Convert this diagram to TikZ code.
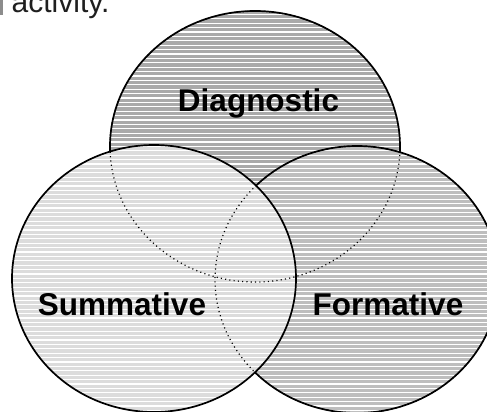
\documentclass[tikz,border=0pt]{standalone}
\usepackage{fontspec}
\setmainfont{Liberation Sans}
\definecolor{diagfill}{HTML}{AAAAAA}
\definecolor{formfill}{HTML}{BEBEBE}
\definecolor{summfill}{HTML}{DCDCDC}
\begin{document}
\begin{tikzpicture}[x=1pt,y=-1pt,
  outline/.style={draw=black,line width=1.7},
  hidden/.style={draw=black,line width=1.2,dash pattern=on 1.1 off 3.2},
  hatch/.style={draw=white,line width=1.1},
  label/.style={font=\fontsize{31.5}{36}\selectfont\bfseries,anchor=base,inner sep=0pt}]
\useasboundingbox (0,0) rectangle (487,412);
\clip (0,0) rectangle (487,412);
\fill[white] (0,0) rectangle (487,412);
% Diagnostic
\begin{scope}
  \clip (255,146.5) ellipse [x radius=145, y radius=135.5];
  \fill[diagfill] (0,0) rectangle (487,412);
  \foreach \yy in {1.2,5.6,...,412} \draw[hatch] (0,\yy) -- (487,\yy);
\end{scope}
\draw[outline] (255,146.5) ellipse [x radius=145, y radius=135.5];
% Formative
\begin{scope}
  \clip (357,279.5) ellipse [x radius=142, y radius=133.5];
  \fill[formfill] (0,0) rectangle (487,412);
  \foreach \yy in {1.2,5.6,...,412} \draw[hatch] (0,\yy) -- (487,\yy);
\end{scope}
\draw[outline] (357,279.5) ellipse [x radius=142, y radius=133.5];
% Summative
\begin{scope}
  \clip (154,278.5) ellipse [x radius=142, y radius=133.5];
  \fill[summfill] (0,0) rectangle (487,412);
  \foreach \yy in {1.2,5.6,...,412} \draw[hatch] (0,\yy) -- (487,\yy);
\end{scope}
\draw[outline] (154,278.5) ellipse [x radius=142, y radius=133.5];
% hidden outlines
\draw[hidden] (255,146.5) ellipse [x radius=145, y radius=135.5];
\draw[hidden] (357,279.5) ellipse [x radius=142, y radius=133.5];
% labels
\node[label] (diag) at (258.5,111.7) {Diagnostic};
\node[label] (summ) at (122,315.7) {Summative};
\node[label] (form) at (388,315.7) {Formative};
\node[font=\fontsize{30}{34}\selectfont,text=black!88,anchor=base west,inner sep=0pt] (act) at (11.5,12.5) {activity.};
\fill[black!45] (0,0) rectangle (2.7,15);
\end{tikzpicture}
\end{document}
